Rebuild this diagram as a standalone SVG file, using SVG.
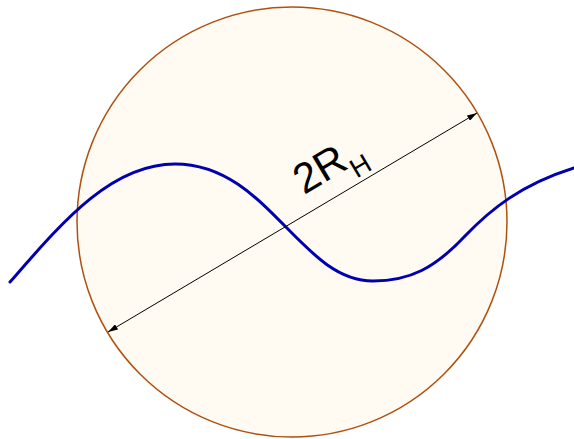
<svg xmlns="http://www.w3.org/2000/svg" width="574" height="439" viewBox="0 0 574 439">
<style>
.circ{fill:#fffbf2;stroke:#b0500f;stroke-width:1.5}
.wave{fill:none;stroke:#0000b0;stroke-width:3;stroke-linecap:round}
.dim{stroke:#000;stroke-width:1;fill:none}
.lbl{font-family:"Liberation Sans",Arial,sans-serif;fill:#000}
</style>
<defs>
<marker id="ah" viewBox="0 0 10 6" refX="10" refY="3" markerWidth="10" markerHeight="6" markerUnits="userSpaceOnUse" orient="auto-start-reverse">
<path d="M0,0 L10,3 L0,6 Z" fill="#000"/>
</marker>
</defs>
<rect width="574" height="439" fill="#fff"/>
<g id="sphere"><circle class="circ" cx="292" cy="222" r="215"/></g>
<g id="curve"><path class="wave" d="M10,282 C60,225 110,164 175,164 C268,164 300,281 373,281 C410,281 435,268 465,236 C490,210 520,185 574,168"/></g>
<g id="connectors">
<line class="dim" x1="108" y1="332" x2="477" y2="113" marker-start="url(#ah)" marker-end="url(#ah)"/>
</g>
<g id="label">
<text class="lbl" transform="translate(304,195) rotate(-30.7)" font-size="42">2R<tspan font-size="27" dy="13">H</tspan></text>
</g>
</svg>
